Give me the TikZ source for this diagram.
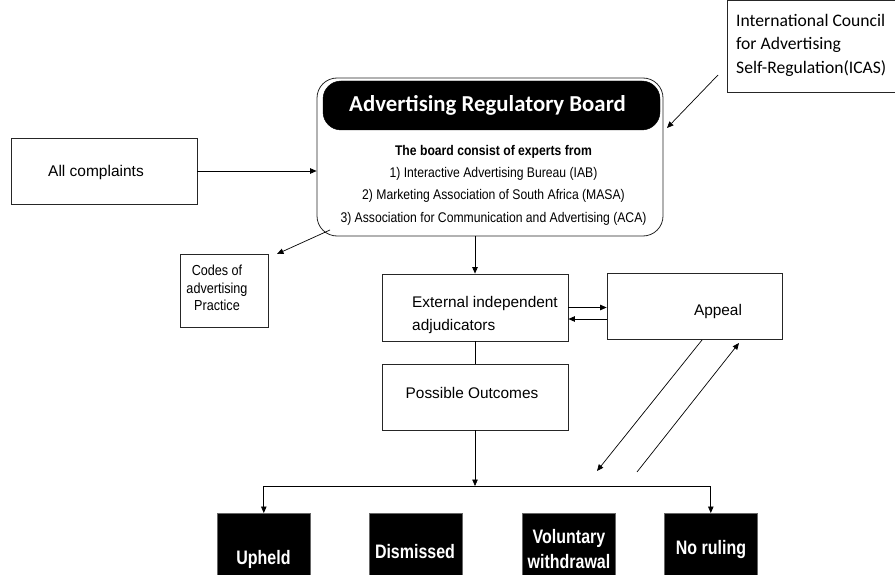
\documentclass[tikz,border=0pt]{standalone}
\usepackage{fontspec}
\setmainfont{Liberation Sans}
\newfontfamily\narrow[FakeStretch=0.87]{Liberation Sans}
\newfontfamily\bnarrow[FakeStretch=0.82]{Liberation Sans}
\newfontfamily\calib{Carlito}
\usetikzlibrary{arrows.meta,calc}
\begin{document}
\begin{tikzpicture}[x=1pt,y=-1pt,
  box/.style={draw=black!85,line width=0.8pt,inner sep=0pt},
  blk/.style={fill=black,draw=black!60,line width=0.6pt,inner sep=0pt,
    minimum width=93pt,minimum height=70pt,anchor=north west},
  blkt/.style={text=white,inner sep=0pt,align=center,font=\bnarrow\bfseries\fontsize{19.5}{25}\selectfont},
  arr/.style={line width=0.7pt,-{Triangle[length=6.5pt,width=5.5pt]}},
  ln/.style={line width=0.7pt}]
\useasboundingbox (0,0) rectangle (895,575);

% ICAS
\node[inner sep=0pt,anchor=north west,minimum width=172pt,minimum height=92pt] (icas) at (727.5,0.5) {};
\draw[line width=0.8pt,draw=black!85] (icas.north east) -- (icas.north west) -- (icas.south west) -- (icas.south east);
\node[anchor=north west,align=left,font=\calib\fontsize{17.6}{23.5}\selectfont,inner sep=0pt] (icast) at (736,14)
  {International Council\\for Advertising\\Self-Regulation(ICAS)};

% Board
\node[box,rounded corners=20pt,minimum width=346pt,minimum height=158pt] (board) at (490,157) {};
\node[fill=black,draw=black,rounded corners=18pt,minimum width=337pt,minimum height=49pt,inner sep=0pt] (title) at (491.5,105.5) {};
\node[inner sep=0pt,text=white,font=\calib\bfseries\fontsize{22.8}{24}\selectfont] (titlet) at (487.5,105.5) {Advertising Regulatory Board};
\node[align=center,inner sep=0pt,font=\narrow\fontsize{14}{22.3}\selectfont] (members) at (493.5,185)
  {\textbf{The board consist of experts from}\\
   1) Interactive Advertising Bureau (IAB)\\
   2) Marketing Association of South Africa (MASA)\\
   3) Association for Communication and Advertising (ACA)};

% All complaints
\node[box,minimum width=186pt,minimum height=66pt] (comp) at (104,171) {};
\node[inner sep=0pt,font=\fontsize{15.5}{18}\selectfont] (compt) at (96,172) {All complaints};

% Codes
\node[box,minimum width=88pt,minimum height=73pt] (codes) at (224,290.5) {};
\node[align=center,inner sep=0pt,font=\narrow\fontsize{14.5}{17.5}\selectfont] (codest) at (217,288)
  {Codes of\\advertising\\Practice};

% External
\node[box,minimum width=186pt,minimum height=67pt] (ext) at (475,307.5) {};
\node[align=left,inner sep=0pt,font=\fontsize{15.4}{23}\selectfont] (extt) at (485,315)
  {External independent\\adjudicators};

% Appeal
\node[box,minimum width=175pt,minimum height=66pt] (app) at (694.5,306) {};
\node[inner sep=0pt,font=\fontsize{15.4}{18}\selectfont] (appt) at (718,312) {Appeal};

% Possible outcomes
\node[box,minimum width=186pt,minimum height=66pt] (poss) at (475,397) {};
\node[inner sep=0pt,font=\fontsize{15.4}{18}\selectfont] (posst) at (472,393) {Possible Outcomes};

% Outcomes
\node[blk] (uph) at (217,513) {};
\node[blk] (dis) at (369,513) {};
\node[blk] (vol) at (522,513) {};
\node[blk] (nor) at (664,513) {};
\node[blkt] (upht) at (263.5,559) {Upheld};
\node[blkt] (dist) at (415,552) {Dismissed};
\node[blkt] (volt) at (569,549) {Voluntary\\withdrawal};
\node[blkt] (nort) at (711,549) {No ruling};

% connectors
\coordinate (i1) at (718,75);
\coordinate (i2) at (667,128);
\draw[arr] (i1) -- (i2);
\draw[arr] (comp.east) -- (comp.east -| board.west);
\coordinate (c1) at (330,230);
\coordinate (c2) at (277,254);
\draw[arr] (c1) -- (c2);
\draw[arr] (ext.north |- board.south) -- (ext.north);
\draw[arr] ([yshift=0pt]ext.east) -- ([yshift=0pt]ext.east -| app.west);
\draw[arr] ([yshift=-11.5pt]ext.east -| app.west) -- ([yshift=-11.5pt]ext.east);
\draw[ln] (ext.south) -- (poss.north);
\coordinate (hub) at (475,486);
\draw[arr] (poss.south) -- (hub);
\draw[arr] (hub) -| (uph.north);
\draw[arr] (hub) -| (nor.north);
\coordinate (a1) at (702,340);
\coordinate (a2) at (597,471);
\draw[arr] (a1) -- (a2);
\coordinate (b1) at (637,472);
\coordinate (b2) at (739,343);
\draw[arr] (b1) -- (b2);
\end{tikzpicture}
\end{document}
